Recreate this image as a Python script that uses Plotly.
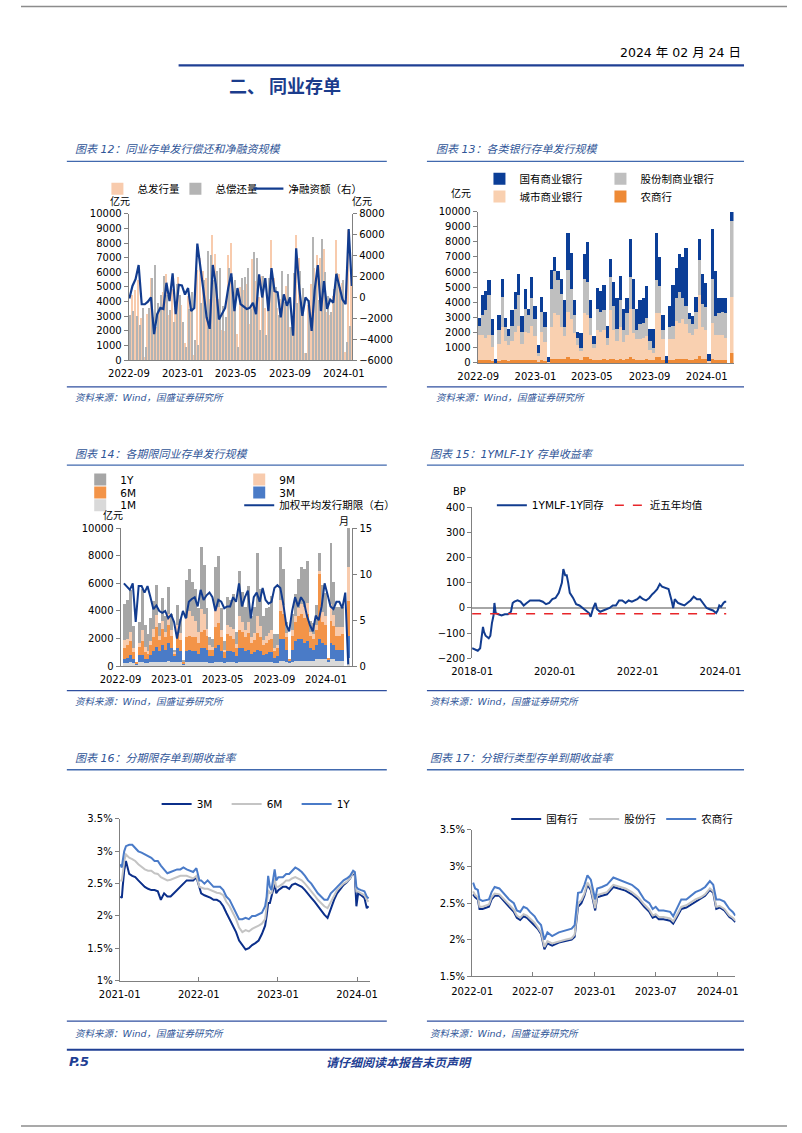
import plotly.graph_objects as go
import pandas as pd

W, H = 802, 1133
def PX(x): return x / W
def PY(y): return 1 - y / H

DAY = 86400000
CJK = "Noto Sans CJK SC"
LAT = "DejaVu Sans, Noto Sans CJK SC"
BLUE_T = "#2F5597"
NAVY = "#1F3F94"

# ---------------- data ----------------
weeks = pd.date_range("2022-09-02", periods=78, freq="7D")

issue_total = [3000,4500,4800,5500,2900,260,3200,5600,3000,2300,
               3500,4700,5900,3100,4900,3600,5700,3800,1200,4400,
               3400,400,6200,7000,6100,5600,4200,8600,7300,4200,
               2100,2000,7200,8000,4200,1800,5000,4800,5200,2500,
               6900,5400,4300,5800,3600,4300,8200,5600,3600,4200,
               4300,5100,2300,2300,8600,7000,3200,500,3800,5200,
               6300,7200,7000,7600,3300,3100,4400,8200,5900,5300,
               600,8900,6100,4300,4300,4300,0,10000]

repay = [3100,3400,3050,2400,3550,910,3600,5600,6500,3900,
         4500,5800,4500,3450,2600,5200,4500,2650,920,3500,
         4700,1400,1050,3900,5500,7500,7200,5500,6100,6300,
         3700,3000,6300,5700,5500,900,5650,5700,6300,3500,
         7400,7000,2100,5800,1750,5600,5400,5000,3100,6100,
         4000,5900,2300,5950,3900,6100,4950,500,4150,8400,
         5550,4100,8300,6050,4400,3300,4900,5950,5000,5500,
         1250,2350,5000]

net_fin = [-100,1100,1750,3100,-650,-650,-400,0,-3500,-1600,
           -1000,-1100,1400,-350,2300,-1600,1200,1150,280,900,
           -1300,-1000,5150,3100,600,-1900,-3000,3100,1200,-2100,
           -1600,-1000,900,2300,-1300,900,-650,-900,-1100,-1000,
           -500,-1600,2200,0,1850,-1300,2800,600,500,-1900,
           300,-800,0,-3650,4700,900,-1750,0,-350,-3200,
           750,3100,-1300,1550,-1100,-200,-500,2250,900,-200,
           -650,6550,1100]

state = [500,1300,1300,1000,1000,260,1000,1200,600,500,
         1000,1100,1400,1000,1300,400,1400,900,500,1000,
         1000,300,1300,900,600,1000,1800,2400,2400,1000,
         400,1000,1600,2600,1200,500,1400,1400,1700,800,
         1200,1600,2000,1600,1400,1000,2500,2000,1400,1600,
         1600,2100,800,1300,3100,1900,1000,500,1400,2700,
         2000,2500,2700,3800,400,500,1000,1400,2000,1600,
         450,3300,3000,1000,900,1000,0,600]
shares = [600,1300,1800,2600,800,0,900,2000,900,600,
          1000,1500,2000,800,1500,1200,1800,1100,200,1300,
          1000,0,2500,2800,2300,2200,600,2800,2000,1200,
          500,200,2300,2200,1100,300,1400,1300,1300,500,
          2200,1600,800,1800,800,1400,2100,1600,600,1000,
          1000,1200,600,300,2200,1800,600,0,800,900,
          1500,2000,1400,1200,900,700,1100,2300,1500,1500,
          0,2900,1200,1400,1500,1600,0,5000]
city = [1700,1700,1500,1700,950,0,1150,2200,1300,1050,
        1300,1900,2300,1100,1850,1800,2250,1600,400,1900,
        1250,50,2100,3000,2900,2100,1500,3000,2600,1700,
        900,600,2900,2800,1600,800,1950,1850,1900,1000,
        3200,1900,1300,2100,1200,1600,3200,1700,1400,1400,
        1500,1500,700,500,2900,2900,1400,0,1400,1400,
        2500,2400,2600,2300,1800,1700,2000,4000,2100,1900,
        100,2400,1700,1700,1700,1500,0,3700]
rural = [200,200,200,200,150,0,150,200,200,150,
         200,200,200,200,250,200,250,200,100,200,
         150,50,300,300,300,300,300,400,300,300,
         300,200,400,400,300,200,250,250,300,200,
         300,300,200,300,200,300,400,300,200,200,
         200,300,200,200,400,400,200,0,200,200,
         300,300,300,300,200,200,300,500,300,300,
         50,300,200,200,200,200,0,700]

# chart 14 (weeks 2..78)
t_1m = [200,200,300,200,100,300,300,200,200,300,
        300,300,300,300,300,400,300,300,300,300,
        100,300,300,300,300,300,300,300,300,200,
        200,300,300,300,200,300,300,300,200,300,
        300,300,300,300,300,300,300,300,300,300,
        300,200,200,400,400,300,200,300,400,400,
        400,400,400,400,400,500,500,500,500,300,
        500,500,400,400,400,0,600]
t_3m = [300,400,500,300,100,500,500,300,300,500,
        800,1100,800,1200,900,1300,1000,400,1000,800,
        100,800,900,800,800,600,1000,1000,900,500,
        500,1000,1200,800,400,800,800,700,500,1000,
        1000,800,900,600,700,900,800,500,600,700,
        700,400,500,1600,1600,900,200,900,1400,1600,
        1600,1300,1400,900,800,1000,1500,1200,1000,200,
        1200,1000,800,800,800,0,1600]
t_6m = [800,900,1000,500,60,600,1000,500,400,700,
        1000,1400,800,1200,900,1300,900,200,1000,800,
        100,1000,1000,1000,1000,800,1200,1300,1000,500,
        500,1500,1600,1000,400,1200,1100,1000,600,1300,
        1200,1000,1200,800,900,1200,1000,700,800,900,
        1000,500,600,2000,1800,900,100,1000,1400,1600,
        1800,1800,2000,900,800,1100,4700,1500,1500,100,
        1600,1400,1000,1000,1100,0,2500]
t_9m = [600,500,700,300,0,300,800,400,200,300,
        600,900,300,600,400,800,400,100,700,500,
        50,1400,1800,1500,1200,800,1600,1200,500,300,
        200,1400,1200,500,200,700,600,700,300,1000,
        700,500,800,400,500,1200,800,400,500,500,
        600,200,200,800,600,300,0,400,400,600,
        700,800,800,300,300,400,200,700,600,0,
        1200,800,600,600,500,0,2500]
t_1y = [2600,2800,3000,1600,0,1500,3000,1600,1200,1700,
        2000,2200,900,1600,1100,1900,1200,200,1400,1000,
        50,2700,3000,2500,2300,1700,4500,3500,1500,600,
        600,3000,3700,1600,600,2000,2000,2500,900,3300,
        2200,1700,2600,1500,1900,4600,2700,1700,2000,1900,
        2500,1000,800,3800,2600,800,0,1200,1600,2100,
        2700,2700,3000,800,800,1400,1300,2000,1700,0,
        4400,2400,1500,1500,1500,0,2800]
tenor = [9.0,8.7,8.3,9.0,4.8,8.7,8.7,8.0,8.7,7.5,
         6.2,6.6,6.0,5.8,6.0,5.2,5.6,4.8,3.0,4.8,
         6.0,5.2,7.0,7.3,7.5,6.5,8.3,7.2,7.7,8.0,
         7.5,6.0,7.2,7.0,6.3,6.5,6.5,7.5,7.0,9.0,
         6.5,7.5,8.2,5.2,7.5,8.0,7.0,8.5,7.2,6.8,
         7.0,8.5,8.8,8.5,6.8,4.5,3.8,6.0,7.5,6.5,
         7.5,7.0,5.5,4.5,3.8,5.5,5.0,6.5,9.0,7.8,
         6.5,6.2,7.0,7.0,6.3,8.0,0.2]

# chart 15
d15 = ["2018-01-01","2018-01-23","2018-02-20","2018-03-13","2018-04-02","2018-04-07","2018-04-16","2018-04-30","2018-05-28","2018-06-11",
       "2018-06-25","2018-07-09","2018-07-17","2018-07-28","2018-08-20","2018-09-18","2018-10-16","2018-11-13","2018-12-10","2018-12-25",
       "2019-01-09","2019-02-06","2019-03-04","2019-04-01","2019-04-28","2019-05-27","2019-06-24","2019-07-21","2019-08-19","2019-09-17",
       "2019-10-15","2019-11-12","2019-12-10","2020-01-07","2020-02-05","2020-03-03","2020-03-16","2020-04-01","2020-04-15","2020-04-28",
       "2020-05-12","2020-06-10","2020-07-07","2020-08-05","2020-09-02","2020-10-01","2020-10-28","2020-11-12","2020-12-04","2020-12-24",
       "2021-01-07","2021-02-04","2021-03-03","2021-04-01","2021-04-28","2021-05-26","2021-06-23","2021-07-21","2021-08-18","2021-09-16",
       "2021-10-13","2021-11-11","2021-12-09","2021-12-28","2022-01-21","2022-02-18","2022-03-16","2022-04-13","2022-05-10","2022-05-24",
       "2022-06-22","2022-07-15","2022-08-04","2022-09-01","2022-09-30","2022-10-27","2022-11-10","2022-11-24","2022-12-22","2023-01-19",
       "2023-02-17","2023-03-15","2023-04-12","2023-05-10","2023-06-08","2023-07-06","2023-08-03","2023-09-01","2023-09-28","2023-10-27",
       "2023-11-24","2023-12-07","2023-12-22","2024-01-06","2024-01-28","2024-02-09","2024-02-23"]
v15 = [-160,-165,-170,-160,-100,-75,-95,-110,-120,-110,
       -60,-30,20,-20,-25,-30,-25,-25,-15,20,
       25,30,25,10,20,30,30,30,30,25,
       15,20,35,40,60,100,155,130,130,100,
       60,40,15,10,0,-10,-20,-35,0,20,
       -5,-15,-10,-5,0,10,10,30,30,20,
       30,25,30,35,45,35,30,40,55,60,
       75,95,85,80,75,30,0,35,20,15,
       10,20,30,45,35,35,20,0,-5,-10,
       -20,-10,10,5,20,25,25]
mean_dates = ["2018-01-01", "2024-02-23"]
mean_vals = [-23, -23]

# chart 16
d16 = ["2021-01-04","2021-01-11","2021-01-15","2021-01-22","2021-01-30","2021-02-14","2021-02-28","2021-03-14","2021-03-28","2021-04-12",
       "2021-04-27","2021-05-12","2021-05-27","2021-06-11","2021-06-26","2021-07-10","2021-07-25","2021-08-09","2021-08-24","2021-09-08",
       "2021-09-23","2021-10-08","2021-10-22","2021-11-06","2021-11-21","2021-12-06","2021-12-21","2022-01-04","2022-01-12","2022-01-27",
       "2022-02-11","2022-02-25","2022-03-10","2022-03-25","2022-04-09","2022-04-24","2022-05-08","2022-05-23","2022-06-07","2022-06-22",
       "2022-07-06","2022-07-21","2022-08-05","2022-08-20","2022-09-04","2022-09-19","2022-10-04","2022-10-19","2022-11-03","2022-11-10",
       "2022-11-17","2022-11-25","2022-12-02","2022-12-09","2022-12-17","2022-12-24","2023-01-03","2023-01-24","2023-02-08","2023-02-22",
       "2023-03-07","2023-03-22","2023-04-06","2023-04-21","2023-05-06","2023-05-20","2023-06-04","2023-06-19","2023-07-04","2023-07-19",
       "2023-08-03","2023-08-18","2023-09-02","2023-09-17","2023-10-01","2023-10-16","2023-10-31","2023-11-15","2023-11-30","2023-12-14",
       "2023-12-22","2023-12-29","2024-01-06","2024-01-20","2024-02-04","2024-02-15","2024-02-23"]
y16_1y = [2.80,2.75,2.85,3.00,3.08,3.10,3.10,3.05,3.00,2.98,
          2.95,2.93,2.90,2.85,2.85,2.78,2.72,2.66,2.68,2.70,
          2.72,2.72,2.75,2.72,2.70,2.68,2.74,2.55,2.55,2.50,
          2.55,2.50,2.45,2.45,2.45,2.40,2.30,2.25,2.15,2.05,
          1.95,1.95,1.97,1.95,2.00,2.00,2.02,2.05,2.15,2.30,
          2.62,2.45,2.40,2.55,2.72,2.55,2.60,2.60,2.65,2.65,
          2.70,2.75,2.72,2.68,2.62,2.55,2.50,2.42,2.35,2.30,
          2.25,2.25,2.35,2.40,2.45,2.50,2.55,2.58,2.62,2.70,
          2.68,2.45,2.42,2.40,2.38,2.30,2.27]
y16_6m = [2.55,2.55,2.65,2.85,2.95,2.90,2.88,2.85,2.80,2.76,
          2.72,2.70,2.70,2.66,2.65,2.60,2.58,2.55,2.56,2.58,
          2.60,2.62,2.62,2.62,2.60,2.58,2.62,2.45,2.44,2.42,
          2.42,2.40,2.37,2.36,2.35,2.32,2.22,2.15,2.05,1.95,
          1.82,1.75,1.78,1.76,1.80,1.82,1.85,1.88,1.95,2.15,
          2.40,2.35,2.35,2.45,2.58,2.45,2.45,2.50,2.55,2.55,
          2.58,2.60,2.58,2.55,2.50,2.45,2.38,2.32,2.25,2.20,
          2.15,2.12,2.22,2.32,2.40,2.45,2.50,2.53,2.58,2.68,
          2.65,2.38,2.38,2.35,2.32,2.25,2.22]
y16_3m = [2.30,2.28,2.45,2.70,2.85,2.65,2.62,2.60,2.55,2.50,
          2.45,2.42,2.40,2.40,2.38,2.25,2.35,2.30,2.30,2.35,
          2.40,2.45,2.50,2.55,2.55,2.55,2.60,2.42,2.35,2.32,
          2.30,2.28,2.25,2.25,2.22,2.15,2.05,1.95,1.85,1.75,
          1.62,1.55,1.48,1.50,1.55,1.58,1.62,1.72,1.85,2.00,
          2.20,2.20,2.30,2.40,2.50,2.35,2.40,2.45,2.45,2.42,
          2.48,2.50,2.48,2.45,2.40,2.35,2.28,2.22,2.15,2.08,
          2.02,1.97,2.12,2.25,2.35,2.42,2.48,2.52,2.58,2.68,
          2.62,2.15,2.35,2.32,2.28,2.12,2.15]
pct_vals = [1, 1.5, 2, 2.5, 3, 3.5]
pct_text = ["1%", "1.5%", "2%", "2.5%", "3%", "3.5%"]

# chart 17
d17 = ["2022-01-04","2022-01-10","2022-01-18","2022-01-23","2022-02-01","2022-02-20","2022-02-28","2022-03-09","2022-03-23","2022-04-06",
       "2022-04-21","2022-05-05","2022-05-14","2022-05-24","2022-06-03","2022-06-13","2022-06-22","2022-07-06","2022-07-15","2022-07-25",
       "2022-08-04","2022-08-13","2022-08-27","2022-09-16","2022-10-05","2022-10-24","2022-11-02","2022-11-12","2022-11-22","2022-12-01",
       "2022-12-10","2022-12-20","2023-01-02","2023-01-08","2023-01-22","2023-02-06","2023-02-25","2023-03-14","2023-04-02","2023-04-21",
       "2023-05-10","2023-05-28","2023-06-12","2023-06-22","2023-07-01","2023-07-10","2023-07-24","2023-08-13","2023-08-22","2023-09-01",
       "2023-09-15","2023-09-30","2023-10-13","2023-10-27","2023-11-12","2023-11-25","2023-12-09","2023-12-19","2023-12-28","2024-01-07",
       "2024-01-21","2024-02-05","2024-02-15","2024-02-23"]
y17_state = [2.62,2.58,2.55,2.42,2.42,2.45,2.55,2.60,2.60,2.52,
             2.45,2.38,2.30,2.27,2.32,2.30,2.26,2.20,2.15,2.08,
             1.87,1.95,1.92,1.96,1.98,2.00,2.04,2.45,2.50,2.60,
             2.75,2.68,2.40,2.58,2.60,2.62,2.72,2.70,2.67,2.62,
             2.55,2.45,2.38,2.30,2.32,2.28,2.28,2.26,2.22,2.30,
             2.42,2.44,2.48,2.52,2.56,2.60,2.68,2.64,2.42,2.44,
             2.40,2.31,2.28,2.24]
y17_joint = [2.66,2.61,2.58,2.45,2.45,2.48,2.58,2.63,2.62,2.55,
             2.48,2.41,2.33,2.30,2.35,2.33,2.29,2.23,2.17,2.10,
             1.90,1.98,1.95,1.98,2.00,2.02,2.07,2.50,2.54,2.63,
             2.78,2.71,2.43,2.61,2.63,2.65,2.75,2.73,2.70,2.65,
             2.58,2.48,2.41,2.33,2.35,2.31,2.31,2.29,2.25,2.33,
             2.45,2.47,2.51,2.55,2.58,2.62,2.70,2.66,2.45,2.46,
             2.42,2.33,2.30,2.26]
y17_rural = [2.78,2.70,2.68,2.55,2.53,2.55,2.65,2.72,2.70,2.62,
             2.55,2.50,2.40,2.38,2.45,2.43,2.38,2.32,2.25,2.20,
             2.00,2.10,2.05,2.10,2.12,2.15,2.20,2.64,2.65,2.75,
             2.88,2.82,2.55,2.70,2.72,2.75,2.85,2.82,2.78,2.75,
             2.68,2.55,2.50,2.42,2.45,2.40,2.40,2.38,2.32,2.42,
             2.55,2.55,2.60,2.65,2.68,2.72,2.80,2.75,2.55,2.55,
             2.52,2.42,2.38,2.33]

# ---------------- figure ----------------
fig = go.Figure()

# chart 12
fig.add_trace(go.Bar(x=weeks[:73], y=issue_total[:73], name="总发行量", marker_color="#F8CBAD",
                     marker_line_width=0, width=3 * DAY, offset=-3 * DAY, xaxis="x", yaxis="y",
                     legend="legend", legendwidth=33))
fig.add_trace(go.Bar(x=weeks[:73], y=repay, name="总偿还量", marker_color="#B4B4B4",
                     marker_line_width=0, width=2.4 * DAY, offset=0.2 * DAY, xaxis="x2", yaxis="y",
                     legend="legend", legendwidth=28))
fig.add_trace(go.Scatter(x=weeks[:73], y=net_fin, name="净融资额（右）", mode="lines",
                         line=dict(color="#123C8F", width=2.2), xaxis="x2", yaxis="y2",
                         legend="legend", legendwidth=80))

# chart 13 (stack bottom -> top)
for vals, nm, col, lg, lw in [(rural, "农商行", "#EE8A36", "legend3", 40), (city, "城市商业银行", "#F9D0B0", "legend3", 76),
                              (shares, "股份制商业银行", "#BFBFBF", "legend2", 80), (state, "国有商业银行", "#0B3E97", "legend2", 76)]:
    fig.add_trace(go.Bar(x=weeks, y=vals, name=nm, marker_color=col, marker_line_width=0,
                         xaxis="x3", yaxis="y3", legend=lg, legendwidth=lw))

# chart 14
for vals, nm, col, lg, lw in [(t_1m, "1M", "#D9D9D9", "legend6", 114), (t_3m, "3M", "#4A7BC7", "legend5", 30),
                              (t_6m, "6M", "#F39448", "legend5", 114), (t_9m, "9M", "#F8CBAD", "legend4", 30),
                              (t_1y, "1Y", "#A6A6A6", "legend4", 114)]:
    fig.add_trace(go.Bar(x=weeks[1:], y=vals, name=nm, marker_color=col, marker_line_width=0,
                         xaxis="x4", yaxis="y4", legend=lg, legendwidth=lw))
fig.add_trace(go.Scatter(x=weeks[1:], y=tenor, name="加权平均发行期限（右）", mode="lines",
                         line=dict(color="#123C8F", width=2), xaxis="x4", yaxis="y5",
                         legend="legend6", legendwidth=125))

# chart 15
fig.add_trace(go.Scatter(x=d15, y=v15, name="1YMLF-1Y同存", mode="lines",
                         line=dict(color="#123C8F", width=2), xaxis="x5", yaxis="y6",
                         legend="legend7", legendwidth=73))
fig.add_trace(go.Scatter(x=mean_dates, y=mean_vals, name="近五年均值", mode="lines",
                         line=dict(color="#E8262A", width=1.6, dash="dash"), xaxis="x5", yaxis="y6",
                         legend="legend7", legendwidth=60))

# chart 16
for vals, nm, col in [(y16_3m, "3M", "#0B2F8A"), (y16_6m, "6M", "#C4C4C4"), (y16_1y, "1Y", "#4A7BC8")]:
    fig.add_trace(go.Scatter(x=d16, y=vals, name=nm, mode="lines", line=dict(color=col, width=2),
                             xaxis="x6", yaxis="y7", legend="legend8", legendwidth=25))

# chart 17
for vals, nm, col, lw in [(y17_state, "国有行", "#0B2F8A", 33), (y17_joint, "股份行", "#C4C4C4", 32),
                          (y17_rural, "农商行", "#4A7BC8", 35)]:
    fig.add_trace(go.Scatter(x=d17, y=vals, name=nm, mode="lines", line=dict(color=col, width=2),
                             xaxis="x7", yaxis="y8", legend="legend9", legendwidth=lw))

# ---------------- axes ----------------
tfont = dict(family=LAT, size=10, color="#000000")
base = dict(showgrid=False, zeroline=False, linecolor="#808080", linewidth=1, tickfont=tfont,
            tickcolor="#808080", ticklen=4, fixedrange=True)
xdate = dict(base, type="date", tickformat="%Y-%m", ticks="", showline=True, ticklabelstandoff=4)

lay = {}
lay["xaxis"] = dict(xdate, domain=[PX(112.7), PX(346.7)], anchor="y",
                    range=["2022-08-31 08:00", "2024-01-19 19:00"], dtick="M4", tick0="2022-09-01")
lay["xaxis2"] = dict(xdate, overlaying="x", matches="x", anchor="y", visible=False)
lay["yaxis"] = dict(base, domain=[PY(358), PY(210)], anchor="x", range=[0, 10000], dtick=1000,
                    tickformat="d", showline=True, ticks="outside")
lay["yaxis2"] = dict(base, overlaying="y", side="right", anchor="x", range=[-6000, 8000], dtick=2000,
                     tickformat="d", showline=True, ticks="outside")

lay["xaxis3"] = dict(xdate, domain=[PX(478), PX(746)], anchor="y3",
                     range=["2022-08-30 12:00", "2024-02-27"], dtick="M4", tick0="2022-09-01")
lay["yaxis3"] = dict(base, domain=[PY(360.7), PY(207.7)], anchor="x3", range=[0, 10000], dtick=1000,
                     tickformat="d", showline=True, ticks="outside")

lay["xaxis4"] = dict(xdate, domain=[PX(104.2), PX(347)], anchor="y4",
                     range=["2022-09-01", "2024-03-04"], dtick="M4", tick0="2022-09-01")
lay["yaxis4"] = dict(base, domain=[PY(667.3), PY(527.7)], anchor="x4", range=[0, 10000], dtick=2000,
                     tickformat="d", showline=True, ticks="outside")
lay["yaxis5"] = dict(base, overlaying="y4", side="right", anchor="x4", range=[0, 15], dtick=5,
                     showline=True, ticks="outside")

lay["xaxis5"] = dict(xdate, domain=[PX(472.3), PX(738.6)], anchor="y6", showline=False,
                     ticklabelstandoff=6,
                     range=["2018-01-01", "2024-02-23"], dtick="M24", tick0="2018-01-01")
lay["yaxis6"] = dict(base, domain=[PY(659.3), PY(506.7)], anchor="x5", range=[-200, 400], dtick=100,
                     tickformat="d", showline=True, ticks="outside", zeroline=True,
                     zerolinecolor="#A6A6A6", zerolinewidth=1.5)

lay["xaxis6"] = dict(xdate, domain=[PX(103.3), PX(365)], anchor="y7", ticks="inside",
                     range=["2021-01-01", "2024-02-28"], dtick="M12", tick0="2021-01-01")
lay["yaxis7"] = dict(base, domain=[PY(985), PY(821.7)], anchor="x6", range=[1, 3.5],
                     tickvals=pct_vals, ticktext=pct_text, showline=True, ticks="outside")

lay["xaxis7"] = dict(xdate, domain=[PX(472.3), PX(748)], anchor="y8", ticks="inside",
                     ticklabelstandoff=6,
                     range=["2022-01-01", "2024-02-23"], dtick="M6", tick0="2022-01-01")
lay["yaxis8"] = dict(base, domain=[PY(980.7), PY(832.7)], anchor="x7", range=[1.5, 3.5],
                     tickvals=pct_vals[1:], ticktext=pct_text[1:], showline=True, ticks="outside")

# ---------------- legends ----------------
lfont = dict(family=LAT, size=10.5, color="#000000")
def leg(x, y, order="normal"):
    return dict(x=PX(x), y=PY(y), xanchor="left", yanchor="top", orientation="h",
                bgcolor="rgba(0,0,0,0)", font=lfont, traceorder=order, itemwidth=30,
                tracegroupgap=0, itemclick=False, itemdoubleclick=False)

lay["legend"] = leg(80, 170)
lay["legend2"] = leg(480, 160, "reversed")
lay["legend3"] = leg(480, 178, "reversed")
lay["legend4"] = leg(62, 464, "reversed")
lay["legend5"] = leg(62, 477, "reversed")
lay["legend6"] = leg(62, 490)
lay["legend7"] = leg(493, 490)
lay["legend8"] = leg(142, 792)
lay["legend9"] = leg(508, 807)

# ---------------- page text ----------------
ann = []
def text(x, y, s, size=10, color="#000", xanchor="left", family=CJK, style="normal", weight="normal"):
    ann.append(dict(x=PX(x), y=PY(y), xref="paper", yref="paper", text=s, showarrow=False,
                    xanchor=xanchor, yanchor="middle",
                    font=dict(family=family, size=size, color=color, style=style, weight=weight)))

text(756, 47, "2024 年 02 月 24 日", 12.5, "#000", "right", LAT)
text(216, 80, "二、 同业存单", 18, "#1B3C8C", "left", CJK, weight="bold")

caps = [(54, 145, "图表 12：同业存单发行偿还和净融资规模"), (432, 145, "图表 13：各类银行存单发行规模"),
        (54, 453, "图表 14：各期限同业存单发行规模"), (426, 453, "图表 15：1YMLF-1Y 存单收益率"),
        (54, 761, "图表 16：分期限存单到期收益率"), (426, 761, "图表 17：分银行类型存单到期收益率")]
for x, y, s in caps:
    text(x, y, s, 11, BLUE_T, "left", LAT, style="italic")

for x, y in [(54, 396), (432, 396), (54, 703), (426, 703), (54, 1038), (426, 1038)]:
    text(x, y, "资料来源：Wind，国盛证券研究所", 9.5, BLUE_T, "left", LAT, style="italic")

text(104, 197, "亿元", 10, "#000", "center")
text(357, 197, "亿元", 10, "#000", "center")
text(461, 188, "亿元", 10, "#000", "center")
text(96, 514, "亿元", 10, "#000", "center")
text(338, 520, "月", 10, "#000", "center")
text(459, 491, "BP", 10, "#000", "center", LAT)

text(48, 1067, "P.5", 13, NAVY, "left", LAT, style="italic", weight="bold")
text(396, 1067, "请仔细阅读本报告末页声明", 12, NAVY, "center", CJK, style="italic", weight="bold")

shapes = []
def hline(x0, x1, y, color, w):
    shapes.append(dict(type="line", xref="paper", yref="paper", x0=PX(x0), x1=PX(x1), y0=PY(y), y1=PY(y),
                       line=dict(color=color, width=w)))

hline(0, 802, 0.5, "#8C8C8C", 1.5)
hline(0, 802, 1132, "#8C8C8C", 1.5)
hline(165, 757, 60, NAVY, 2.2)
for y in [157, 464, 772]:
    hline(48, 383, y, "#4169AE", 1.4)
    hline(425, 757, y, "#4169AE", 1.4)
for y in [385, 692, 1026]:
    hline(48, 383, y, "#2F4F9F", 1.4)
    hline(425, 757, y, "#2F4F9F", 1.4)
hline(48, 757, 1055, NAVY, 2)

fig.update_layout(width=W, height=H, margin=dict(l=0, r=0, t=0, b=0), autosize=False,
                  paper_bgcolor="white", plot_bgcolor="rgba(0,0,0,0)",
                  barmode="stack", bargap=0, showlegend=True,
                  annotations=ann, shapes=shapes, font=dict(family=LAT), **lay)

fix_page = ("}); document.documentElement.style.margin='0'; document.body.style.margin='0'; "
            "document.body.style.padding='0'; document.documentElement.style.overflow='hidden'; "
            "document.body.style.overflow='hidden'; (function(){")
fig.write_html("out.html", config={"displayModeBar": False, "responsive": False},
               post_script=fix_page)
